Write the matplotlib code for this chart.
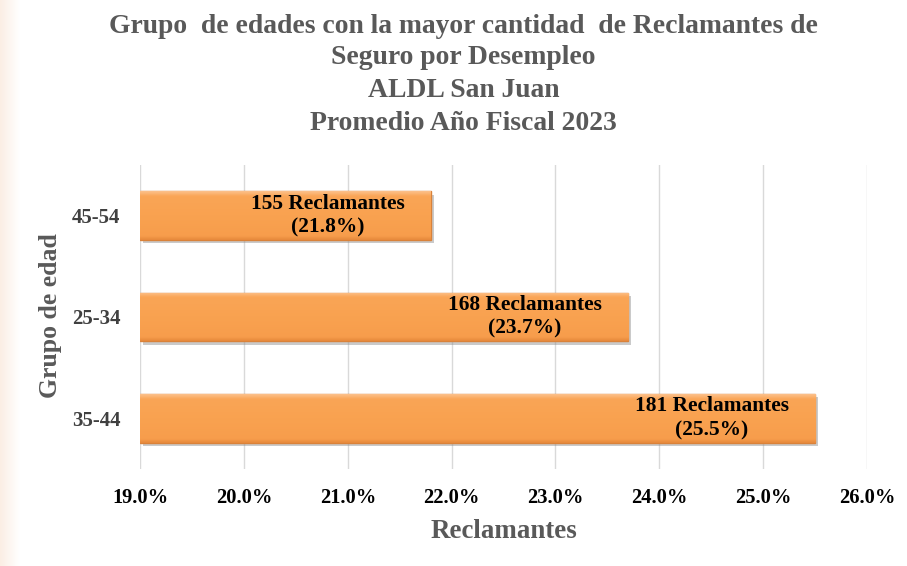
import matplotlib
matplotlib.use("Agg")
import matplotlib.pyplot as plt
import matplotlib.patheffects as pe
from matplotlib.ticker import FuncFormatter, MultipleLocator
from matplotlib.colors import LinearSegmentedColormap
import numpy as np

categories = ["35-44", "25-34", "45-54"]
claimants = [181, 168, 155]
percents = [25.5, 23.7, 21.8]
title_lines = ["Grupo  de edades con la mayor cantidad  de Reclamantes de",
               "Seguro por Desempleo", "ALDL San Juan", "Promedio Año Fiscal 2023"]

plt.rcParams['font.family'] = ['Liberation Serif', 'DejaVu Serif']

W, H = 907, 566
fig = plt.figure(figsize=(W / 100, H / 100), dpi=100)
fig.patch.set_facecolor('white')

# faint left edge band
band = fig.add_axes([0, 0, 0.022, 1])
band.imshow(np.linspace(1, 0, 50).reshape(1, -1), aspect='auto',
            cmap=LinearSegmentedColormap.from_list('b', ['#ffffff', '#fbeee4']),
            extent=[0, 1, 0, 1])
band.axis('off')

ax = fig.add_axes([0.1544, 0.1714, 0.8016, 0.5371])
left = 19.0
y = np.arange(len(categories))
bars = ax.barh(y, [p - left for p in percents], left=left, height=0.48,
               color='#F9A04E', edgecolor='#D9823A', linewidth=1.0, zorder=3)
bar_cmap = LinearSegmentedColormap.from_list(
    'bar', [(0.0, '#E6893C'), (0.08, '#F79D4C'), (0.5, '#F9A250'),
            (0.9, '#FAA556'), (1.0, '#FCC08A')])
grad = np.linspace(0, 1, 100).reshape(-1, 1)
for b in bars:
    b.set_path_effects([pe.SimplePatchShadow(offset=(2, -2.5), shadow_rgbFace='#8a8a8a', alpha=0.45),
                        pe.Normal()])
    x0, y0 = b.get_x(), b.get_y()
    im = ax.imshow(grad, aspect='auto', cmap=bar_cmap, origin='lower',
                   extent=[x0, x0 + b.get_width(), y0, y0 + b.get_height()],
                   zorder=3.5)
    im.set_clip_path(b)

for yi, c, p in zip(y, claimants, percents):
    ax.annotate(f"{c} Reclamantes\n({p:.1f}%)", xy=(p, yi), xytext=(-19, 0),
                textcoords='offset points', ha='right', va='center',
                multialignment='center', fontsize=15.4, fontweight='bold',
                color='black', zorder=5, linespacing=1.25)

ax.set_xlim(19.0, 26.0)
ax.set_ylim(-0.5, 2.5)
ax.xaxis.set_major_locator(MultipleLocator(1.0))
ax.xaxis.set_major_formatter(FuncFormatter(lambda v, _: f"{v:.1f}%"))
ax.set_yticks(y)
ax.set_yticklabels(categories)
ax.grid(axis='x', color='#d9d9d9', linewidth=1, zorder=0)
ax.set_axisbelow(True)
for s in ax.spines.values():
    s.set_visible(False)
ax.tick_params(axis='both', length=0)
ax.tick_params(axis='x', pad=14)
ax.tick_params(axis='y', pad=14)
for lab in ax.get_xticklabels():
    lab.set_fontsize(14.8); lab.set_fontweight('bold'); lab.set_color('black')
for lab in ax.get_yticklabels():
    lab.set_fontsize(15); lab.set_fontweight('bold'); lab.set_color('#404040')

fig.text(0.556, 1 - 531 / H, "Reclamantes", ha='center', va='center', fontsize=19.4,
         fontweight='bold', color='#595959')
fig.text(51 / W, 1 - 316 / H, "Grupo de edad", ha='center', va='center', rotation=90,
         fontsize=18.5, fontweight='bold', color='#595959')

baselines = [33, 64, 97, 130]
for line, bl in zip(title_lines, baselines):
    fig.text(0.511, 1 - bl / H, line, ha='center', va='baseline',
             fontsize=19.9, fontweight='bold', color='#595959')

fig.savefig("out.png", dpi=100)
